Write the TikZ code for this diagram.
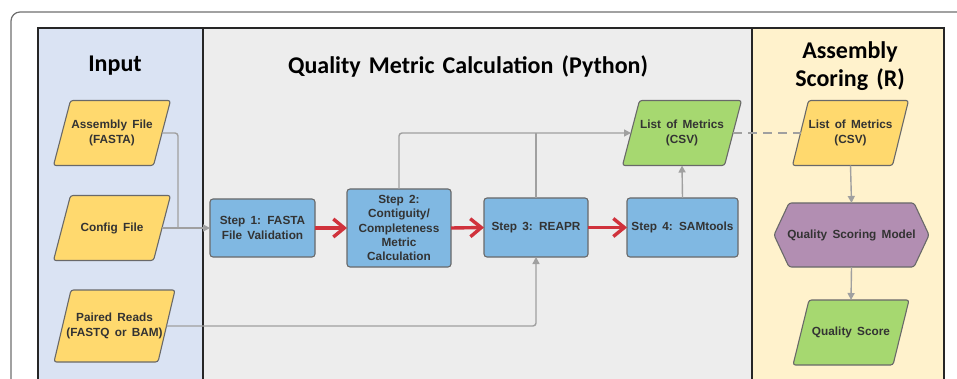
\documentclass[tikz,border=0pt]{standalone}
\usepackage{fontspec}
\setmainfont{Liberation Sans}
\newfontfamily\boxfont[WordSpace=1.6]{Liberation Sans}
\newfontfamily\titlefont[WordSpace=1.5]{Carlito}
\usetikzlibrary{arrows.meta,calc}
\definecolor{panelblue}{RGB}{218,227,243}
\definecolor{panelgray}{RGB}{237,237,237}
\definecolor{panelyellow}{RGB}{255,242,204}
\definecolor{fyellow}{RGB}{255,217,110}
\definecolor{fgreen}{RGB}{166,216,112}
\definecolor{fblue}{RGB}{128,184,226}
\definecolor{fpurple}{RGB}{178,142,178}
\definecolor{bordergray}{RGB}{105,105,105}
\definecolor{conngray}{RGB}{160,160,160}
\definecolor{redarrow}{RGB}{208,50,60}
\definecolor{txt}{RGB}{51,51,51}
\definecolor{framegray}{RGB}{110,110,110}
\pgfdeclarelayer{panel}
\pgfdeclarelayer{shp}
\pgfsetlayers{panel,shp,main}
\tikzset{
  txtnode/.style={inner sep=0pt, outer sep=0pt, align=center, text=txt,
    font=\boxfont\bfseries\fontsize{11.8}{14.2}\selectfont},
  stepbox/.style={txtnode, draw=bordergray, fill=fblue, line width=1.1pt,
    rounded corners=3pt},
  shapeborder/.style={draw=bordergray, line width=1.1pt, rounded corners=2.5pt},
  conn/.style={draw=conngray, line width=1.4pt, rounded corners=3pt},
  garrow/.style={conn, -{Triangle[length=7pt,width=7pt]}},
  rarrow/.style={draw=redarrow, line width=3.4pt, -{Straight Barb[length=11pt,width=18pt,line width=3.4pt]}},
  title/.style={font=\titlefont\bfseries\fontsize{24}{28}\selectfont, text=black, inner sep=0pt},
}
\newcommand\parashape[3]{%
  \begin{pgfonlayer}{shp}
  \path[shapeborder,fill=#2] ([xshift=#3]#1.north west) -- ([xshift=#3]#1.north east)
    -- ([xshift=-#3]#1.south east) -- ([xshift=-#3]#1.south west) -- cycle;
  \end{pgfonlayer}}
\begin{document}
\begin{tikzpicture}[x=1pt,y=-1pt]
\useasboundingbox (0,0) rectangle (957,379);
% frame and panels
\begin{pgfonlayer}{panel}
\draw[draw=framegray, line width=1.2pt, rounded corners=9pt] (11,12) rectangle (990,420);
\fill[panelblue] (37.5,28) rectangle (203,410);
\fill[panelgray] (203,28) rectangle (752,410);
\fill[panelyellow] (752,28) rectangle (944,410);
\draw[line width=2pt, draw=black!85] (37.5,410) -- (37.5,28) -- (944,28) -- (944,410);
\draw[line width=2pt, draw=black!85] (203,28) -- (203,410);
\draw[line width=2pt, draw=black!85] (752,28) -- (752,410);
\end{pgfonlayer}
% titles
\node[title] (tin) at (115,66) {Input};
\node[title] (tqm) at (468,66) {Quality Metric Calculation (Python)};
\node[title, align=center, font=\titlefont\bfseries\fontsize{24}{28.5}\selectfont] (tas) at (850,66) {Assembly\\Scoring (R)};
% input parallelograms
\node[txtnode, minimum width=100pt, minimum height=65pt] (af) at (112,133) {Assembly File\\(FASTA)};
\parashape{af}{fyellow}{8.5pt}
\node[txtnode, minimum width=100pt, minimum height=65pt] (cf) at (112,228) {Config File};
\parashape{cf}{fyellow}{8.5pt}
\node[txtnode, minimum width=104pt, minimum height=72pt] (pr) at (114.5,326) {Paired Reads\\(FASTQ or BAM)};
\parashape{pr}{fyellow}{8.5pt}
% steps
\node[stepbox, minimum width=105pt, minimum height=58pt] (s1) at (262.5,228) {Step 1: FASTA\\File Validation};
\node[stepbox, minimum width=104pt, minimum height=78pt] (s2) at (399,228) {Step 2:\\Contiguity/\\Completeness\\Metric\\Calculation};
\node[stepbox, minimum width=104pt, minimum height=59pt] (s3) at (536,227.5) {Step 3: REAPR};
\node[stepbox, minimum width=111pt, minimum height=59pt] (s4) at (682.5,227.5) {Step 4: SAMtools};
% metrics
\node[txtnode, minimum width=102pt, minimum height=65pt] (gl) at (682,133) {List of Metrics\\(CSV)};
\parashape{gl}{fgreen}{8.5pt}
\node[txtnode, minimum width=100pt, minimum height=65pt] (yl) at (850.5,133) {List of Metrics\\(CSV)};
\parashape{yl}{fyellow}{8pt}
% hexagon
\node[txtnode, minimum width=155pt, minimum height=64pt] (qm) at (851.5,235) {Quality Scoring Model};
\begin{pgfonlayer}{shp}
\path[shapeborder, fill=fpurple] (qm.west) -- ([xshift=15pt]qm.north west) -- ([xshift=-15pt]qm.north east)
  -- (qm.east) -- ([xshift=-15pt]qm.south east) -- ([xshift=15pt]qm.south west) -- cycle;
\end{pgfonlayer}
\node[txtnode, minimum width=100pt, minimum height=65pt] (qs) at (851,332.5) {Quality Score};
\parashape{qs}{fgreen}{8pt}
% connectors
\coordinate (j1) at (178,228);
\draw[conn] (af.east) -| (j1);
\draw[garrow] (cf.east) -- (s1.west);
\draw[garrow] (pr.east) -| (s3.south);
\draw[garrow] (s2.north) |- (gl.west);
\draw[conn] (s3.north) -- (s3.north |- gl.west);
\draw[garrow] (s4.north) -- (gl.south);
\draw[conn, dashed, dash pattern=on 9pt off 6pt, rounded corners=0pt] (gl.east) -- (yl.west);
\draw[garrow] (yl.south) -- (qm.north);
\draw[garrow] (qm.south) -- (qs.north);
\draw[rarrow] (s1.east) -- (s2.west);
\draw[rarrow] (s2.east) -- (s3.west);
\draw[rarrow] (s3.east) -- (s4.west);
\end{tikzpicture}
\end{document}
